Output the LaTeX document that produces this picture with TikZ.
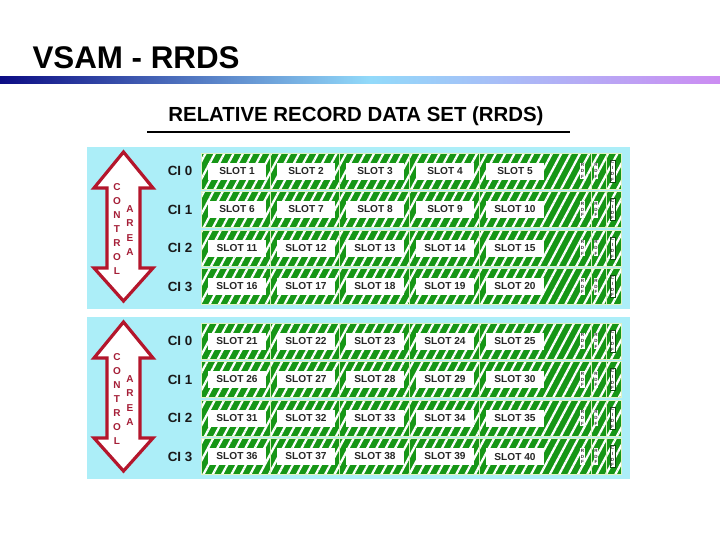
\documentclass[tikz,border=0pt]{standalone}
\usepackage{fontspec}
\setmainfont{Liberation Sans}
\usetikzlibrary{patterns.meta}

\definecolor{panelcyan}{RGB}{172,238,248}
\definecolor{slotgreen}{RGB}{22,150,22}
\definecolor{cellline}{RGB}{222,242,196}
\definecolor{arrowred}{RGB}{180,22,44}
\definecolor{letterred}{RGB}{165,30,55}
\definecolor{barnavy}{RGB}{12,12,132}
\definecolor{barsky}{RGB}{146,218,250}
\definecolor{barviolet}{RGB}{204,140,242}

\tikzset{every picture/.style={line width=0.75pt},
  cellbox/.style={preaction={fill=slotgreen},pattern={Lines[angle=62,distance=6.2pt,line width=1.7pt]},pattern color=white,draw=cellline},
  slotlabel/.style={fill=white,inner sep=0pt,minimum width=43.5pt,minimum height=12.75pt,anchor=west,text=black!85,font=\fontsize{7.6}{8}\selectfont\bfseries},
  rdflabel/.style={fill=white,inner sep=0.6pt,align=center,text=black!80,font=\fontsize{3.4}{4.4}\selectfont\bfseries},
  cidflabel/.style={rdflabel,draw=slotgreen!50!black,line width=0.3pt},
  cilabel/.style={inner sep=0.75pt,text=black!90,font=\fontsize{10}{12}\selectfont\bfseries},
  ctlarrow/.style={draw=arrowred,fill=white,line width=2.4pt,line join=miter},
  ctlletter/.style={inner sep=0pt,text=letterred,font=\fontsize{7.5}{8}\selectfont\bfseries}}

\begin{document}
\begin{tikzpicture}[x=0.75pt,y=0.75pt,yscale=-1,xscale=1]
\useasboundingbox (0,0) rectangle (720,540);

% Title
\draw (32,68) node [anchor=base west][inner sep=0pt][font=\fontsize{23.5}{28}\selectfont\bfseries] (title) {VSAM - RRDS};
% Title bar
\shade [left color=barnavy,right color=barsky] (0,76) rectangle (370,83);
\shade [left color=barsky,right color=barviolet] (370,76) rectangle (720,83);

% Header
\draw (356,121.5) node [anchor=base][inner sep=0pt][font=\fontsize{15.3}{18}\selectfont\bfseries] (header) {RELATIVE RECORD DATA SET (RRDS)};
\draw [line width=1.5pt] (147,131.5) -- (570,131.5);

% Control areas
\foreach \p/\T in {0/147,1/317} {
  \fill [panelcyan] (87,\T) rectangle (630,\T+162);
  % double arrow
  \draw [ctlarrow] (123.5,\T+5) -- (153,\T+41) -- (140,\T+41) -- (140,\T+121) -- (153,\T+121) -- (123.5,\T+154)
    -- (94,\T+121) -- (107,\T+121) -- (107,\T+41) -- (94,\T+41) -- cycle;
  \foreach \l [count=\i from 0] in {C,O,N,T,R,O,L}
    \node [ctlletter] (ctl\p\i) at (117,\T+40+14*\i) {\l};
  \foreach \l [count=\i from 0] in {A,R,E,A}
    \node [ctlletter] (area\p\i) at (130,\T+62+14.3*\i) {\l};
  % control intervals
  \foreach \r in {0,...,3} {
    \pgfmathsetmacro\yt{\T+6+38.5*\r}
    \pgfmathsetmacro\yb{\yt+36}
    \pgfmathsetmacro\ym{\yt+18}
    \node [cilabel] (ci\p\r) at (180,\ym) {CI \r};
    \foreach \c/\xl/\xr in {0/201/270,1/270/339,2/339/409,3/409/479,4/479/591} {
      \path [cellbox] (\xl,\yt) rectangle (\xr,\yb);
      \pgfmathtruncatemacro\s{20*\p+5*\r+\c+1}
      \node [slotlabel] (slot\s) at (\xl+6.5,\ym) {SLOT \s};
    }
    \path [cellbox] (591,\yt) rectangle (606,\yb);
    \path [cellbox] (606,\yt) rectangle (621,\yb);
    \node [rdflabel] (rdfa\p\r) at (582.5,\ym) {R\\D\\F};
    \node [rdflabel] (rdfb\p\r) at (596,\ym) {R\\D\\F};
    \node [cidflabel] (cidf\p\r) at (612.5,\ym) {C\\I\\D\\F};
  }
}
\end{tikzpicture}
\end{document}
